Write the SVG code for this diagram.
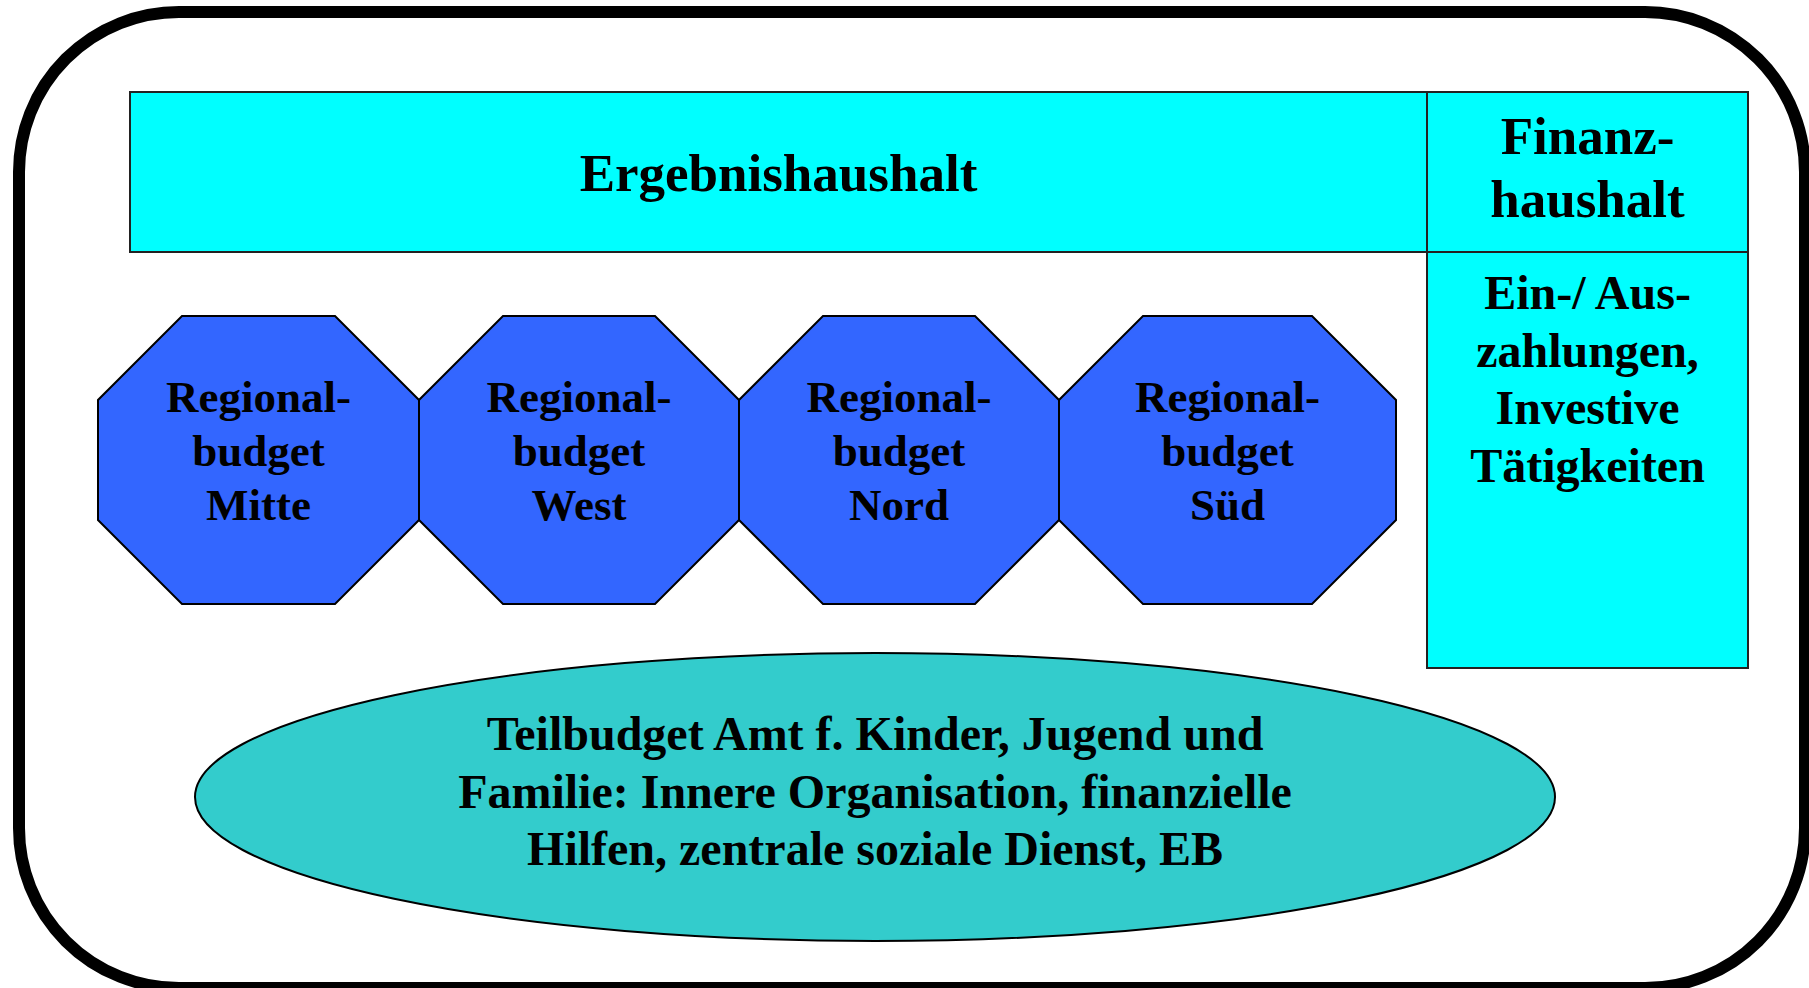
<svg xmlns="http://www.w3.org/2000/svg" width="1809" height="988" viewBox="0 0 1809 988">
<style>
.t{font-family:"Liberation Serif","Times New Roman",serif;font-weight:bold;fill:#000;text-anchor:middle}
.box{fill:#00FFFF;stroke:#222;stroke-width:2}
.oct{fill:#3366FF;stroke:#000;stroke-width:2;stroke-linejoin:miter}
</style>
<rect width="1809" height="988" fill="#fff"/>
<g id="frame">
<rect x="19" y="12" width="1786" height="976" rx="160" ry="160" fill="#fff" stroke="#000" stroke-width="12"/>
</g>
<g id="ergebnishaushalt">
<rect class="box" x="130" y="92" width="1297" height="160"/>
<text class="t" x="778.5" y="191" font-size="53">Ergebnishaushalt</text>
</g>
<g id="finanzhaushalt">
<rect class="box" x="1427" y="92" width="321" height="160"/>
<text class="t" x="1587.5" y="154" font-size="53">Finanz-</text>
<text class="t" x="1587.5" y="217" font-size="53">haushalt</text>
</g>
<g id="zahlungen">
<rect class="box" x="1427" y="252" width="321" height="416"/>
<text class="t" font-size="48"><tspan x="1587.5" y="309">Ein-/ Aus-</tspan><tspan x="1587.5" y="367">zahlungen,</tspan><tspan x="1587.5" y="424">Investive</tspan><tspan x="1587.5" y="482">Tätigkeiten</tspan></text>
</g>
<g id="mitte">
<polygon class="oct" points="182,316 335,316 419,400 419,520 335,604 182,604 98,520 98,400"/>
<text class="t" font-size="45"><tspan x="258.5" y="412">Regional-</tspan><tspan x="258.5" y="466">budget</tspan><tspan x="258.5" y="520">Mitte</tspan></text>
</g>
<g id="west">
<polygon class="oct" points="503,316 655,316 739,400 739,520 655,604 503,604 419,520 419,400"/>
<text class="t" font-size="45"><tspan x="579" y="412">Regional-</tspan><tspan x="579" y="466">budget</tspan><tspan x="579" y="520">West</tspan></text>
</g>
<g id="nord">
<polygon class="oct" points="823,316 975,316 1059,400 1059,520 975,604 823,604 739,520 739,400"/>
<text class="t" font-size="45"><tspan x="899" y="412">Regional-</tspan><tspan x="899" y="466">budget</tspan><tspan x="899" y="520">Nord</tspan></text>
</g>
<g id="sued">
<polygon class="oct" points="1143,316 1312,316 1396,400 1396,520 1312,604 1143,604 1059,520 1059,400"/>
<text class="t" font-size="45"><tspan x="1227.5" y="412">Regional-</tspan><tspan x="1227.5" y="466">budget</tspan><tspan x="1227.5" y="520">Süd</tspan></text>
</g>
<g id="teilbudget">
<ellipse cx="875" cy="797" rx="680" ry="144" fill="#33CCCC" stroke="#000" stroke-width="2"/>
<text class="t" font-size="48"><tspan x="875" y="750">Teilbudget Amt f. Kinder, Jugend und</tspan><tspan x="875" y="808">Familie: Innere Organisation, finanzielle</tspan><tspan x="875" y="865">Hilfen, zentrale soziale Dienst, EB</tspan></text>
</g>
<g id="connectors"></g>
</svg>
